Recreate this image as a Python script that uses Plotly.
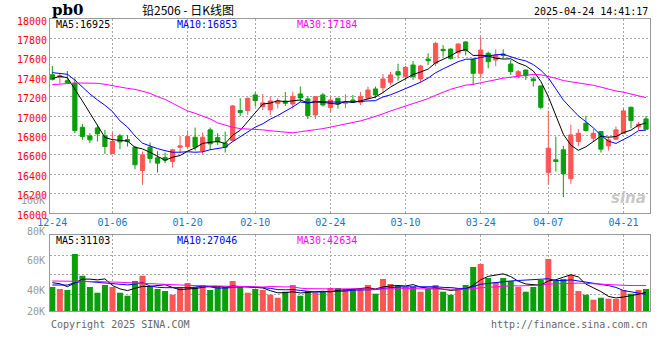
import plotly.graph_objects as go

# ---------------- data ----------------
dates = [
    "12-24", "12-25", "12-26", "12-27", "12-30", "12-31",
    "01-02", "01-03", "01-06", "01-07", "01-08", "01-09", "01-10",
    "01-13", "01-14", "01-15", "01-16", "01-17",
    "01-20", "01-21", "01-22", "01-23", "01-24", "01-27",
    "02-05", "02-06", "02-07", "02-10", "02-11", "02-12", "02-13", "02-14",
    "02-17", "02-18", "02-19", "02-20", "02-21",
    "02-24", "02-25", "02-26", "02-27", "02-28",
    "03-03", "03-04", "03-05", "03-06", "03-07",
    "03-10", "03-11", "03-12", "03-13", "03-14",
    "03-17", "03-18", "03-19", "03-20", "03-21",
    "03-24", "03-25", "03-26", "03-27", "03-28", "03-31",
    "04-01", "04-02", "04-03",
    "04-07", "04-08", "04-09", "04-10", "04-11",
    "04-14", "04-15", "04-16", "04-17", "04-18",
    "04-21", "04-22", "04-23", "04-24",
]
tick_labels = ["12-24", "01-06", "01-20", "02-10", "02-24", "03-10", "03-24", "04-07", "04-21"]

opens = [17425, 17400, 17364, 17337, 16884, 16795, 16877, 16795, 16613, 16795,
         16757, 16678, 16438, 16678, 16569, 16572, 16531, 16678, 16685, 16781,
         16644, 16857, 16778, 16720, 16747, 17056, 17056, 17217, 17097, 17063,
         17131, 17155, 17124, 17227, 17176, 17011, 17217, 17087, 17183, 17131,
         17165, 17141, 17183, 17279, 17292, 17347, 17457, 17406, 17526, 17382,
         17587, 17543, 17687, 17690, 17653, 17763, 17584, 17440, 17646, 17577,
         17639, 17536, 17416, 17474, 17382, 17310, 16418, 16548, 16651, 16353,
         16737, 16925, 16771, 16840, 16692, 16761, 16819, 17090, 16888, 16970]
highs = [17515, 17445, 17464, 17388, 16918, 16822, 16908, 16857, 16829, 16816,
         16805, 16692, 16634, 16727, 16637, 16623, 16661, 16795, 16850, 16881,
         16829, 16881, 16822, 16840, 17114, 17183, 17190, 17244, 17227, 17200,
         17183, 17248, 17251, 17303, 17203, 17205, 17238, 17200, 17186, 17224,
         17217, 17248, 17303, 17303, 17433, 17454, 17539, 17515, 17567, 17526,
         17646, 17766, 17731, 17697, 17749, 17773, 17594, 17817, 17663, 17687,
         17687, 17577, 17474, 17478, 17406, 17314, 17056, 16788, 16692, 16908,
         16867, 17001, 16867, 16845, 16788, 16891, 17080, 17097, 16939, 17001]
lows = [17365, 17335, 17337, 16822, 16754, 16720, 16737, 16610, 16610, 16658,
        16685, 16452, 16291, 16514, 16418, 16514, 16469, 16617, 16658, 16644,
        16606, 16651, 16702, 16623, 16737, 17001, 17011, 17097, 17063, 17011,
        17080, 17104, 17076, 17145, 16970, 16970, 17097, 17035, 17076, 17080,
        17135, 17114, 17172, 17183, 17234, 17320, 17364, 17364, 17371, 17344,
        17526, 17515, 17611, 17584, 17594, 17625, 17320, 17388, 17491, 17515,
        17594, 17423, 17388, 17371, 17303, 17069, 16291, 16428, 16164, 16301,
        16692, 16840, 16737, 16623, 16644, 16754, 16815, 16874, 16857, 16857]
closes = [17378, 17415, 17344, 16850, 16788, 16754, 16816, 16685, 16737, 16733,
          16737, 16497, 16600, 16562, 16514, 16545, 16651, 16692, 16788, 16678,
          16781, 16713, 16733, 16678, 17104, 17035, 17183, 17159, 17135, 17155,
          17155, 17131, 17200, 17186, 17004, 17200, 17114, 17165, 17124, 17148,
          17145, 17200, 17268, 17217, 17382, 17423, 17423, 17502, 17406, 17515,
          17570, 17749, 17673, 17594, 17742, 17673, 17440, 17680, 17560, 17629,
          17625, 17457, 17457, 17416, 17364, 17090, 16668, 16531, 16404, 16805,
          16822, 16850, 16822, 16658, 16754, 16857, 17052, 16953, 16915, 16864]
volumes = [40800, 37400, 35700, 96900, 60000, 40800, 31100, 44200, 40800, 31100,
           26000, 51000, 60000, 40800, 37400, 34000, 27700, 40800, 47600, 40800,
           44200, 35700, 40800, 40800, 51000, 40800, 31100, 37400, 35700, 27700,
           22600, 32800, 44200, 26000, 34000, 31100, 32800, 39100, 39100, 37400,
           37400, 39100, 44200, 29400, 54400, 45900, 42500, 40800, 40800, 32800,
           37400, 44200, 32800, 27700, 39100, 44200, 74800, 79900, 56100, 49300,
           56100, 51000, 40800, 32800, 40800, 52700, 88400, 51000, 54400, 61700,
           34000, 27700, 19200, 22600, 20900, 20400, 35700, 29400, 35700, 37400]

ma5_head = [17385, 17410, 17395, 17280]
ma10_head = [17447, 17440, 17430, 17371, 17296, 17227, 17166, 17111, 17046]
ma30_head = [17323, 17330, 17337, 17340, 17340, 17340, 17337, 17327, 17316, 17299,
             17285, 17275, 17255, 17234, 17200, 17172, 17131, 17090, 17052, 17028,
             17001, 16970, 16929, 16905, 16884, 16870, 16867, 16864, 16857]
vol_ma5_head = [48100, 46400, 41300, 48100]
vol_ma10_head = [44200, 43700, 44200, 48100, 50500, 49800, 48800, 47600, 45900]
vol_ma30_head = [51000, 50500, 49800, 50500, 50500, 50500, 50500, 49800, 49300, 48800,
                 48100, 47600, 47100, 46400, 45900, 45400, 44700, 44200, 43700, 43000,
                 43000, 42500, 42500, 42000, 42000, 41300, 40800, 40500, 40800]

price_ticks = [16000, 16200, 16400, 16600, 16800, 17000, 17200, 17400, 17600, 17800, 18000]
vol_tick_labels = ["100K", "80K", "60K", "40K", "20K"]
price_ma_labels = ["MA5:16925", "MA10:16853", "MA30:17184"]
vol_ma_labels = ["MA5:31103", "MA10:27046", "MA30:42634"]
title_code = "pb0"
title_text = "铅2506 - 日K线图"
timestamp = "2025-04-24 14:41:17"
copyright_text = "Copyright 2025 SINA.COM"
url_text = "http://finance.sina.com.cn"


def moving_average(values, window, head):
    out = list(head)
    for i in range(window - 1, len(values)):
        out.append(sum(values[i - window + 1:i + 1]) / window)
    return out


# ---------------- style ----------------
W, H = 660, 360
PL, PR = 50, 650
MAIN_T, MAIN_B = 19, 213
VOL_T, VOL_B = 235, 311
VOL_MAX = 129200
RED = "#ff5555"
GREEN = "#0a9f0a"
GRID = "#a8a8a8"
BORDER = "#999999"
MONO = "DejaVu Sans Mono"
MA_COLORS = ["#000000", "#0000ff", "#ff00ff"]
LABEL_X = [54, 175, 295]


def px(x):
    return x / W


def py(y):
    return 1 - y / H


idx = list(range(len(dates)))
tickvals = [dates.index(t) for t in tick_labels]

fig = go.Figure()

fig.add_trace(go.Candlestick(
    x=idx, open=opens, high=highs, low=lows, close=closes,
    text=dates, xaxis="x", yaxis="y",
    increasing=dict(line=dict(color=RED, width=1), fillcolor=RED),
    decreasing=dict(line=dict(color=GREEN, width=1), fillcolor=GREEN),
    whiskerwidth=0, showlegend=False,
))

price_mas = [moving_average(closes, 5, ma5_head),
             moving_average(closes, 10, ma10_head),
             moving_average(closes, 30, ma30_head)]
for series, color in zip(price_mas, MA_COLORS):
    fig.add_trace(go.Scatter(x=idx, y=series, mode="lines", xaxis="x", yaxis="y",
                             line=dict(color=color, width=1), showlegend=False,
                             hoverinfo="skip"))

bar_colors = [RED if c >= o else GREEN for o, c in zip(opens, closes)]
fig.add_trace(go.Bar(x=idx, y=volumes, xaxis="x2", yaxis="y2", width=0.8,
                     marker=dict(color=bar_colors, line=dict(width=0)),
                     showlegend=False))

vol_mas = [moving_average(volumes, 5, vol_ma5_head),
           moving_average(volumes, 10, vol_ma10_head),
           moving_average(volumes, 30, vol_ma30_head)]
for series, color in zip(vol_mas, MA_COLORS):
    fig.add_trace(go.Scatter(x=idx, y=series, mode="lines", xaxis="x2", yaxis="y2",
                             line=dict(color=color, width=1), showlegend=False,
                             hoverinfo="skip"))

xgrid_minor = dict(tickmode="array", tickvals=tickvals[1:], showgrid=True,
                   gridcolor=GRID, griddash="2px,2px", gridwidth=1, ticks="")
common_x = dict(domain=[px(PL), px(PR)], range=[-0.31, 79.53], showgrid=False,
                zeroline=False, showline=True, mirror=True, linecolor=BORDER,
                linewidth=1, ticks="", minor=xgrid_minor, fixedrange=True,
                automargin=False)

annotations = []
for text, x, color in zip(price_ma_labels, LABEL_X, MA_COLORS):
    annotations.append(dict(text=text, x=px(x), y=py(24.5), xref="paper", yref="paper",
                            xanchor="left", yanchor="middle", showarrow=False,
                            font=dict(family=MONO, size=10, color=color)))
for text, x, color in zip(vol_ma_labels, LABEL_X, MA_COLORS):
    annotations.append(dict(text=text, x=px(x), y=py(240), xref="paper", yref="paper",
                            xanchor="left", yanchor="middle", showarrow=False,
                            font=dict(family=MONO, size=10, color=color)))
for text, y in zip(vol_tick_labels, [200, 231, 260, 290, 311]):
    annotations.append(dict(text=text, x=px(47), y=py(y), xref="paper", yref="paper",
                            xanchor="right", yanchor="middle", showarrow=False,
                            font=dict(family=MONO, size=10, color="#9a9a9a")))
annotations += [
    dict(text="<b>" + title_code + "</b>", x=px(50), y=py(9.5), xref="paper", yref="paper",
         xanchor="left", yanchor="middle", showarrow=False,
         font=dict(family="DejaVu Serif", size=15, color="#000000")),
    dict(text=title_text, x=px(140), y=py(9), xref="paper", yref="paper",
         xanchor="left", yanchor="middle", showarrow=False,
         font=dict(family="Noto Sans CJK SC", size=12, color="#000000")),
    dict(text=timestamp, x=px(650), y=py(11), xref="paper", yref="paper",
         xanchor="right", yanchor="middle", showarrow=False,
         font=dict(family=MONO, size=10, color="#000000")),
    dict(text=copyright_text, x=px(49), y=py(324), xref="paper", yref="paper",
         xanchor="left", yanchor="middle", showarrow=False,
         font=dict(family=MONO, size=10, color="#666666")),
    dict(text=url_text, x=px(650), y=py(324), xref="paper", yref="paper",
         xanchor="right", yanchor="middle", showarrow=False,
         font=dict(family=MONO, size=10, color="#666666")),
    dict(text="<b><i>sina</i></b>", x=px(648), y=py(198), xref="paper", yref="paper",
         xanchor="right", yanchor="middle", showarrow=False,
         font=dict(family="DejaVu Sans", size=15, color="#c8c8c8")),
]

fig.update_layout(
    template="none",
    width=W, height=H, autosize=False,
    margin=dict(l=0, r=0, t=0, b=0, pad=0),
    paper_bgcolor="#ffffff", plot_bgcolor="#ffffff",
    boxgap=0.2, bargap=0.2, hovermode=False, showlegend=False,
    xaxis=dict(common_x, anchor="y", tickmode="array", tickvals=tickvals,
               ticktext=tick_labels, showticklabels=True,
               tickfont=dict(family=MONO, size=10, color="#1478c8"),
               rangeslider=dict(visible=False)),
    yaxis=dict(domain=[py(MAIN_B), py(MAIN_T)], range=[16000, 18000], anchor="x",
               tickmode="array", tickvals=price_ticks,
               ticktext=[str(v) for v in price_ticks], ticklabelshift=2,
               tickfont=dict(family=MONO, size=10, color="#ff0000"),
               showgrid=True, gridcolor=GRID, griddash="2px,2px", gridwidth=1,
               zeroline=False, showline=True, mirror=True, linecolor=BORDER,
               linewidth=1, ticks="", fixedrange=True, automargin=False),
    xaxis2=dict(common_x, anchor="y2", matches="x", showticklabels=False),
    yaxis2=dict(domain=[py(VOL_B), py(VOL_T)], range=[0, VOL_MAX], anchor="x2",
                tickmode="array",
                tickvals=[VOL_MAX * f for f in (0.217, 0.474, 0.728)],
                showticklabels=False, showgrid=True, gridcolor=GRID,
                griddash="2px,2px", gridwidth=1, zeroline=False, showline=True,
                mirror=True, linecolor=BORDER, linewidth=1, ticks="",
                fixedrange=True, automargin=False),
    annotations=annotations,
)

fig.write_html(
    "out.html",
    config={"displayModeBar": False, "staticPlot": True},
    post_script="document.body.style.margin='0';document.body.style.padding='0';"
                "document.documentElement.style.overflow='hidden';",
)
